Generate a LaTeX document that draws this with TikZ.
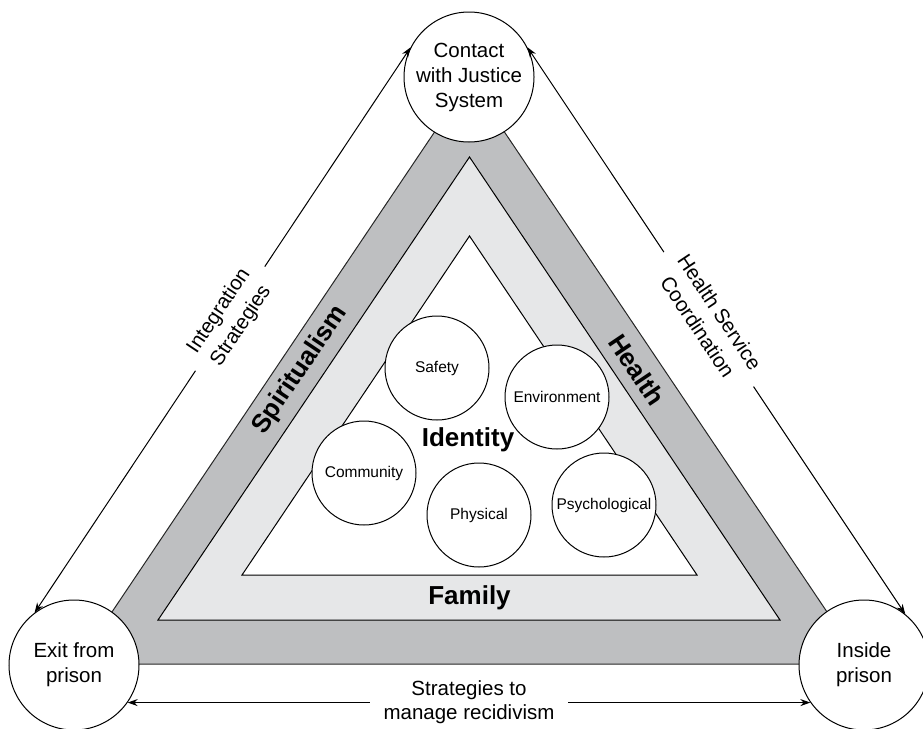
\documentclass[tikz,border=0pt]{standalone}
\usepackage{fontspec}
\setmainfont{Liberation Sans}
\usepackage{tikz}
\usetikzlibrary{arrows.meta}
\definecolor{banddark}{RGB}{190,191,193}
\definecolor{bandlight}{RGB}{230,231,232}
\tikzstyle{stage}=[circle, draw, fill=white, line width=1pt, minimum size=130pt, inner sep=0pt, align=center, font=\fontsize{20.5}{25}\selectfont]
\tikzstyle{factor}=[circle, draw, fill=white, line width=1pt, minimum size=104pt, inner sep=0pt, font=\fontsize{15.5}{18}\selectfont]
\tikzstyle{bandlabel}=[inner sep=0pt, font=\fontsize{26}{30}\selectfont\bfseries]
\tikzstyle{arrowlabel}=[fill=white, inner xsep=14pt, inner ysep=2pt, align=center, font=\fontsize{20.5}{24}\selectfont]
\tikzstyle{slopedlabel}=[arrowlabel, sloped, pos=0.48, font=\fontsize{20.5}{26.5}\selectfont]
\tikzstyle{arrow}=[draw=black, line width=1pt, {Stealth[length=10pt,width=7pt]}-{Stealth[length=10pt,width=7pt]}]

\begin{document}
\begin{tikzpicture}[x=1pt, y=-1pt]
	\useasboundingbox (0,0) rectangle (923,728);
	\begin{scope}[line width=1pt]
		\filldraw[fill=banddark, draw=black!85] (469.5,80) -- (862,664) -- (77,664) -- cycle;
		\filldraw[fill=bandlight, draw=black] (469.5,157) -- (780,620) -- (158,620) -- cycle;
		\filldraw[fill=white, draw=black] (469.5,236) -- (697,575) -- (242,575) -- cycle;
	\end{scope}
	\begin{scope}
		\node (8) at (300,370)[bandlabel, rotate=56.1] {Spiritualism};
		\node (9) at (637,370)[bandlabel, rotate=-56.1] {Health};
		\node (10) at (469.5,598)[bandlabel] {Family};
		\node (11) at (468,440)[bandlabel] {Identity};
	\end{scope}
	\begin{scope}
		\node (0) at (469,77)[stage] {Contact\\with Justice\\System};
		\node (1) at (74,665)[stage] {Exit from\\prison};
		\node (2) at (864,665)[stage] {Inside\\prison};
		\node (3) at (437,368)[factor] {Safety};
		\node (4) at (557,397)[factor] {Environment};
		\node (5) at (364,473)[factor] {Community};
		\node (6) at (479,515)[factor] {Physical};
		\node (7) at (604,505)[factor] {Psychological};
	\end{scope}
	\begin{scope}
		\path [arrow] (0.153) -- node[slopedlabel] {Integration\\Strategies} (1.127);
		\path [arrow] (0.27) -- node[slopedlabel] {Health Service\\Coordination} (2.51);
		\path [arrow] (1.325) -- node[arrowlabel] {Strategies to\\manage recidivism} (2.215);
	\end{scope}
\end{tikzpicture}
\end{document}
